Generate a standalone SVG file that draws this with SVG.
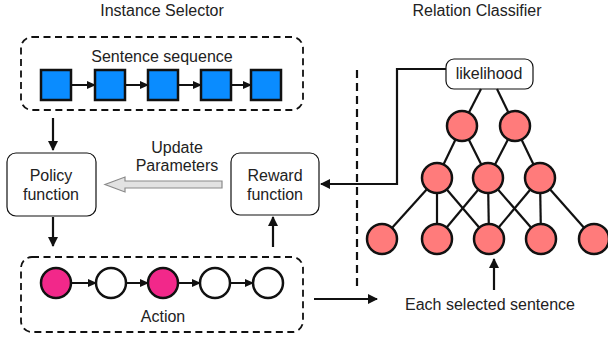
<svg xmlns="http://www.w3.org/2000/svg" width="608" height="337" viewBox="0 0 608 337">
<style>
text{font-family:"Liberation Sans",Arial,sans-serif;font-size:16px;fill:#222;text-anchor:middle}
.dash{fill:none;stroke:#111;stroke-width:1.8;stroke-dasharray:7,4.5}
.box{fill:#fff;stroke:#111;stroke-width:1.2}
.sq{fill:#0A8CFF;stroke:#111;stroke-width:2.5}
.c{stroke:#111;stroke-width:2.5}
.ln{stroke:#111;stroke-width:2.2;fill:none}
.ar{stroke:#111;stroke-width:2.2;fill:none;marker-end:url(#ah)}
.sa{stroke:#111;stroke-width:2;fill:none;marker-end:url(#sah)}
.n{fill:#FF7B7B;stroke:#111;stroke-width:2.5}
</style>
<defs>
<marker id="ah" markerWidth="10" markerHeight="10" refX="9" refY="5" orient="auto" markerUnits="userSpaceOnUse"><path d="M0,0 L10,5 L0,10 Z" fill="#111"/></marker>
<marker id="sah" markerWidth="9" markerHeight="8" refX="8" refY="4" orient="auto" markerUnits="userSpaceOnUse"><path d="M0,0 L9,4 L0,8 Z" fill="#111"/></marker>
</defs>
<text x="162" y="16">Instance Selector</text>
<text x="477" y="16">Relation Classifier</text>

<g id="sentence-sequence">
<rect class="dash" x="21" y="37" width="282" height="73" rx="11"/>
<text x="162" y="62">Sentence sequence</text>
<rect class="sq" x="41" y="70" width="30" height="30"/>
<rect class="sq" x="95" y="70" width="30" height="30"/>
<rect class="sq" x="148" y="70" width="30" height="30"/>
<rect class="sq" x="201" y="70" width="30" height="30"/>
<rect class="sq" x="251" y="70" width="30" height="30"/>
</g>

<g id="policy">
<rect class="box" x="7" y="153" width="89" height="63" rx="9"/>
<text x="51" y="181">Policy</text>
<text x="51" y="200">function</text>
</g>

<g id="reward">
<rect class="box" x="231" y="153" width="88" height="62" rx="9"/>
<text x="275" y="181">Reward</text>
<text x="275" y="200">function</text>
</g>

<g id="update-label">
<text x="177" y="153">Update</text>
<text x="177" y="171">Parameters</text>
</g>

<g id="action">
<rect class="dash" x="21" y="257" width="282" height="75" rx="11"/>
<circle class="c" cx="56" cy="283" r="15" fill="#F2288A"/>
<circle class="c" cx="111" cy="283" r="15" fill="#fff"/>
<circle class="c" cx="163" cy="283" r="15" fill="#F2288A"/>
<circle class="c" cx="215" cy="283" r="15" fill="#fff"/>
<circle class="c" cx="268" cy="283" r="15" fill="#fff"/>
<text x="163" y="322">Action</text>
</g>

<g id="likelihood">
<rect class="box" x="446" y="59" width="87" height="30" rx="8"/>
<text x="489" y="79">likelihood</text>
</g>

<g id="connectors">
<line class="sa" x1="71" y1="85" x2="95" y2="85"/>
<line class="sa" x1="125" y1="85" x2="148" y2="85"/>
<line class="sa" x1="178" y1="85" x2="201" y2="85"/>
<line class="sa" x1="231" y1="85" x2="251" y2="85"/>
<line class="sa" x1="71" y1="283" x2="96" y2="283"/>
<line class="sa" x1="126" y1="283" x2="148" y2="283"/>
<line class="sa" x1="178" y1="283" x2="200" y2="283"/>
<line class="sa" x1="230" y1="283" x2="253" y2="283"/>
<line class="ar" x1="53" y1="118" x2="53" y2="150"/>
<line class="ar" x1="53" y1="217" x2="53" y2="246"/>
<line class="ar" x1="273" y1="247" x2="273" y2="217"/>
<path d="M222,181 L125,181 L125,177 L105,184.5 L125,192 L125,188 L222,188 Z" fill="#e2e2e2" stroke="#8a8a8a" stroke-width="1.2"/>
<line x1="357" y1="70" x2="357" y2="288" stroke="#111" stroke-width="2.2" stroke-dasharray="8,5"/>
<path class="ar" d="M446,69 L397,69 L397,184 L321,184"/>
<line class="ar" x1="314" y1="299" x2="377" y2="299"/>
<line class="ar" x1="494" y1="290" x2="494" y2="259"/>
<line class="ln" x1="481" y1="89" x2="462" y2="126"/>
<line class="ln" x1="497" y1="89" x2="515" y2="126"/>
<line class="ln" x1="462" y1="126" x2="437" y2="178"/>
<line class="ln" x1="462" y1="126" x2="488" y2="178"/>
<line class="ln" x1="515" y1="126" x2="488" y2="178"/>
<line class="ln" x1="515" y1="126" x2="540" y2="178"/>
<line class="ln" x1="437" y1="178" x2="382" y2="239"/>
<line class="ln" x1="437" y1="178" x2="437" y2="239"/>
<line class="ln" x1="437" y1="178" x2="489" y2="239"/>
<line class="ln" x1="488" y1="178" x2="437" y2="239"/>
<line class="ln" x1="488" y1="178" x2="489" y2="239"/>
<line class="ln" x1="488" y1="178" x2="541" y2="239"/>
<line class="ln" x1="540" y1="178" x2="489" y2="239"/>
<line class="ln" x1="540" y1="178" x2="541" y2="239"/>
<line class="ln" x1="540" y1="178" x2="594" y2="239"/>
</g>

<g id="network">
<circle class="n" cx="462" cy="126" r="15"/>
<circle class="n" cx="515" cy="126" r="15"/>
<circle class="n" cx="437" cy="178" r="15"/>
<circle class="n" cx="488" cy="178" r="15"/>
<circle class="n" cx="540" cy="178" r="15"/>
<circle class="n" cx="382" cy="239" r="15"/>
<circle class="n" cx="437" cy="239" r="15"/>
<circle class="n" cx="489" cy="239" r="15"/>
<circle class="n" cx="541" cy="239" r="15"/>
<circle class="n" cx="594" cy="239" r="15"/>
</g>

<text id="each-label" x="490" y="310">Each selected sentence</text>
</svg>
